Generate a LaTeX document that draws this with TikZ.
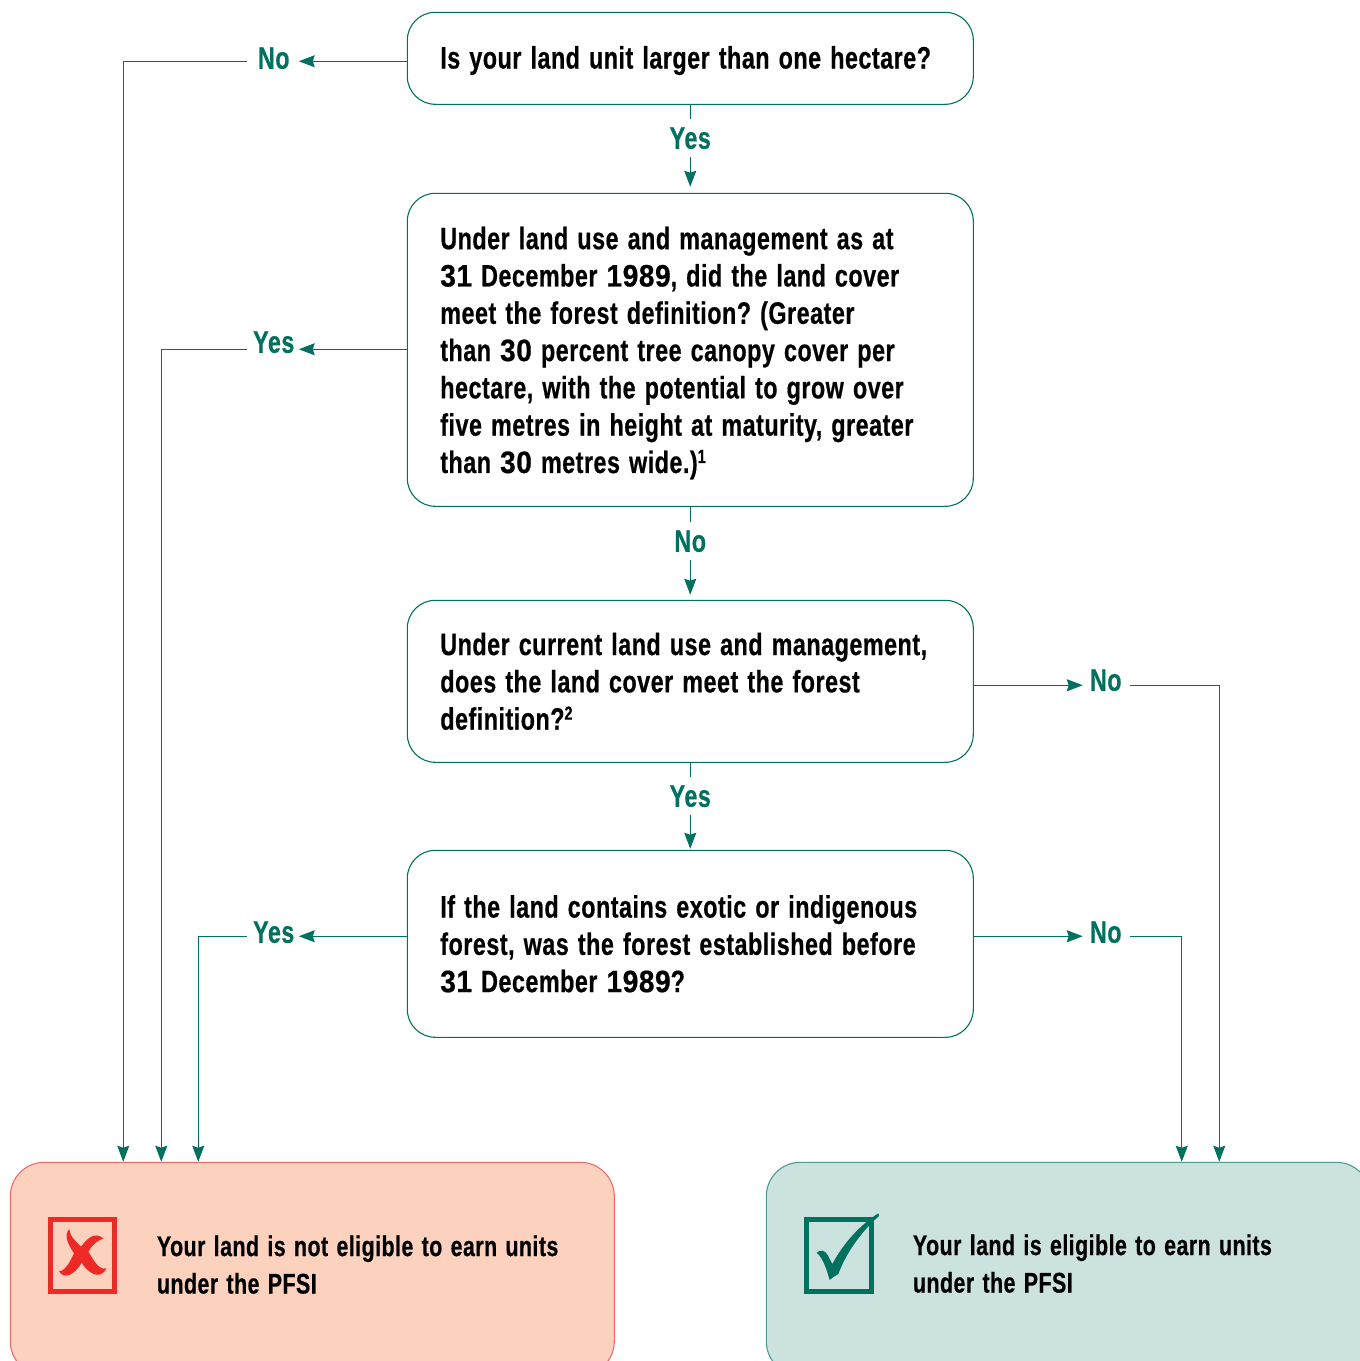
\documentclass[tikz,border=0pt]{standalone}
\usepackage{graphicx}
\usepackage{fontspec}
\setmainfont{Liberation Sans}[BoldFeatures={FakeStretch=0.753,FakeBold=0.5},LetterSpace=1.6,WordSpace=1.3]
\usetikzlibrary{arrows.meta}
\definecolor{teal1}{HTML}{00715F}
\definecolor{redline}{HTML}{EE6A6A}
\definecolor{redfill}{HTML}{FCD2BE}
\definecolor{redmark}{HTML}{EE2A27}
\definecolor{greenfill}{HTML}{CCE2DF}
\newcommand{\topgap}[1]{\rule{0pt}{#1}}
\newcommand{\supnum}[1]{\raisebox{10pt}{\fontsize{19}{19}\selectfont #1}}
\newcommand{\dg}[1]{\scalebox{1.2}[1]{#1}}
\tikzset{
 qbox/.style={draw=teal1,line width=1.1pt,rounded corners=28pt,minimum width=566pt,text width=500pt,inner xsep=33pt,inner ysep=0pt,align=flush left,anchor=north west,font=\fontsize{31}{37.3}\selectfont\bfseries\frenchspacing},
 lab/.style={text=teal1,inner xsep=11pt,inner ysep=0pt,font=\fontsize{31}{37}\selectfont\bfseries,text height=22pt,text depth=0pt},
 vlab/.style={lab,inner ysep=8pt},
 conn/.style={draw=teal1,line width=1.1pt},
 arr/.style={conn,-{Stealth[length=16pt,width=12pt,inset=2pt]}},
 endbox/.style={line width=1.1pt,rounded corners=34pt,minimum width=604pt,minimum height=213pt,anchor=north west},
 endtext/.style={anchor=north west,align=left,inner sep=0pt,font=\fontsize{28.4}{37.5}\selectfont\bfseries},
}
\begin{document}
\begin{tikzpicture}[x=1pt,y=-1pt]
\useasboundingbox (0,0) rectangle (1360,1361);
\clip (0,0) rectangle (1360,1361);
\begin{scope}[shift={(-0.25,-0.25)}]
\node[qbox,minimum height=92pt] (q1) at (407,12) {\topgap{27pt}Is your land unit larger than one hectare?};
\node[qbox,minimum height=313pt] (q2) at (407,193) {\topgap{29pt}Under land use and management as at\\\dg{31} December \dg{1989}, did the land cover\\meet the forest definition? (Greater\\than \dg{30} percent tree canopy cover per\\hectare, with the potential to grow over\\five metres in height at maturity, greater\\than \dg{30} metres wide.)\supnum{1}};
\node[qbox,minimum height=162pt] (q3) at (407,600) {Under current land use and management,\\does the land cover meet the forest\\definition?\supnum{2}};
\node[qbox,minimum height=187pt] (q4) at (407,850) {If the land contains exotic or indigenous\\forest, was the forest established before\\\dg{31} December \dg{1989}?};
\node[endbox,draw=redline,fill=redfill] (fail) at (10,1162) {};
\node[endbox,draw=teal1!70,fill=greenfill] (pass) at (766,1162) {};
\node[endtext] (failt) at (157,1235.5) {Your land is not eligible to earn units\\under the PFSI};
\node[endtext] (passt) at (913,1234.5) {Your land is eligible to earn units\\under the PFSI};
% labels
\node[lab] (n1) at (274,58) {No};
\node[vlab] (y1) at (690.5,138) {Yes};
\node[lab,inner xsep=6pt] (y2) at (274,342) {Yes};
\node[vlab] (n2) at (690.5,541) {No};
\node[lab,inner xsep=8pt] (n3) at (1106,680) {No};
\node[vlab] (y3) at (690.5,796) {Yes};
\node[lab,inner xsep=6pt] (y4) at (274,932) {Yes};
\node[lab,inner xsep=8pt] (n4) at (1106,932) {No};
% free ends
\coordinate (f1) at (123.5,1162);
\coordinate (f2) at (161.5,1162);
\coordinate (f3) at (198.5,1162);
\coordinate (p1) at (1182,1162);
\coordinate (p2) at (1219.5,1162);
% connectors
\draw[arr] (q1.west |- 0,61.5) -- (299,61.5);
\draw[arr] (n1.west |- 0,61.5) -- (123.5,61.5) -- (f1);
\draw[conn] (q1.south -| y1) -- (y1.north);
\draw[arr] (y1.south) -- (690.5,187);
\draw[arr] (q2.west |- 0,349.5) -- (299,349.5);
\draw[arr] (y2.west |- 0,349.5) -- (161.5,349.5) -- (f2);
\draw[conn] (q2.south -| n2) -- (n2.north);
\draw[arr] (n2.south) -- (690.5,595);
\draw[arr] (q3.east |- 0,685.5) -- (1083,685.5);
\draw[arr] (n3.east |- 0,685.5) -- (1219.5,685.5) -- (p2);
\draw[conn] (q3.south -| y3) -- (y3.north);
\draw[arr] (y3.south) -- (690.5,849);
\draw[arr] (q4.west |- 0,936.5) -- (299,936.5);
\draw[arr] (y4.west |- 0,936.5) -- (198.5,936.5) -- (f3);
\draw[arr] (q4.east |- 0,936.5) -- (1083,936.5);
\draw[arr] (n4.east |- 0,936.5) -- (1182,936.5) -- (p1);
\end{scope}
% cross icon
\draw[redmark,line width=4.6pt] (50.3,1219.3) rectangle (114.7,1291.7);
\begin{scope}[shift={(0,1140)},x=0.33333pt,y=-0.33333pt]
\fill[redmark] (208,267) .. controls (190,285) and (205,315) .. (222,340) -- (245,368) .. controls (260,395) and (300,425) .. (319,385) .. controls (295,392) and (278,355) .. (265,335) -- (243,320) .. controls (225,300) and (212,295) .. (208,267) -- cycle;
\fill[redmark] (310,295) .. controls (280,270) and (255,305) .. (243,320) -- (222,340) .. controls (210,365) and (195,395) .. (177,393) .. controls (190,420) and (225,405) .. (245,368) -- (265,335) .. controls (275,315) and (295,300) .. (310,295) -- cycle;
\end{scope}
% tick icon
\draw[teal1,line width=4.6pt] (806.3,1219.3) rectangle (871.7,1291.7);
\begin{scope}[shift={(760,1140)},x=0.33333pt,y=-0.33333pt]
\fill[teal1] (170,338) .. controls (180,328) and (195,330) .. (203,345) -- (217,372) .. controls (250,310) and (300,255) .. (355,220) -- (357,228) .. controls (310,270) and (262,330) .. (235,402) .. controls (225,408) and (218,412) .. (209,420) .. controls (200,390) and (190,355) .. (170,338) -- cycle;
\end{scope}
\end{tikzpicture}
\end{document}
